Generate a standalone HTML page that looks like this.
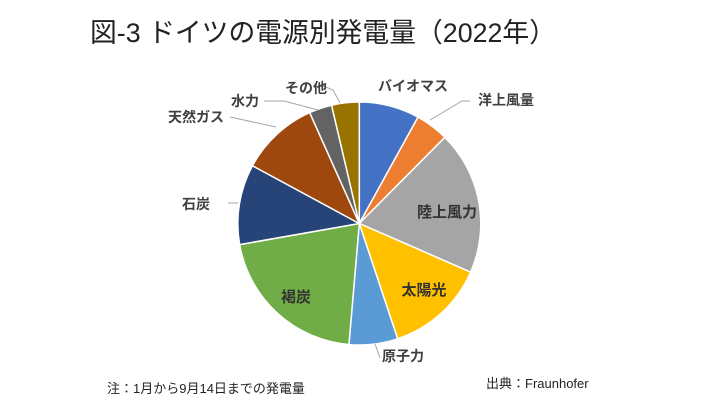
<!DOCTYPE html>
<html><head><meta charset="utf-8"><style>
body{margin:0;width:712px;height:410px;background:#fff;overflow:hidden;font-family:"Liberation Sans","Noto Sans CJK JP",sans-serif}
svg text{font-family:"Liberation Sans","Noto Sans CJK JP",sans-serif}
</style></head><body>
<svg id="s" width="712" height="410" xmlns="http://www.w3.org/2000/svg">
<text x="90" y="42" font-size="27" fill="#222" textLength="466" lengthAdjust="spacingAndGlyphs">図-3 ドイツの電源別発電量（2022年）</text>
<g id="pie"></g>
<g stroke="#a6a6a6" stroke-width="1" fill="none">
<polyline points="430,120 462,101 470,101"/>
<polyline points="321,85 333,90 340,103"/>
<polyline points="264,101 284,101 318,110"/>
<polyline points="230,117 276,127 276,127"/>
<polyline points="375,344 380,358"/>
<polyline points="228,203 238,203"/>
</g>
<g font-size="14" font-weight="bold" fill="#404040" text-anchor="middle">
<text x="413" y="91">バイオマス</text>
<text x="506" y="105">洋上風量</text>
<text x="447" y="217" font-size="15" fill="#333">陸上風力</text>
<text x="424" y="295" font-size="15" fill="#333">太陽光</text>
<text x="403" y="361">原子力</text>
<text x="296" y="302" font-size="15" fill="#333">褐炭</text>
<text x="196" y="209">石炭</text>
<text x="196" y="122">天然ガス</text>
<text x="245" y="106">水力</text>
<text x="306" y="93">その他</text>
</g>
<text x="107" y="393" font-size="13" fill="#222">注：1月から9月14日までの発電量</text>
<text x="486" y="388" font-size="13" fill="#222">出典：Fraunhofer</text>
</svg>
<script>
var cx=359.3,cy=223.5,r=121.5;
var b=[0,28.9,44.8,113.6,161.6,184.9,260,298.4,335.9,346.8,360];
var c=["#4472C4","#ED7D31","#A5A5A5","#FFC000","#5B9BD5","#70AD47","#264478","#9E480E","#636363","#997300"];
var g=document.getElementById("pie"),h="";
function p(a){a=a*Math.PI/180;return (cx+r*Math.sin(a)).toFixed(2)+","+(cy-r*Math.cos(a)).toFixed(2);}
for(var i=0;i<10;i++){var l=(b[i+1]-b[i])>180?1:0;
h+='<path d="M'+cx+','+cy+' L'+p(b[i])+' A'+r+','+r+' 0 '+l+' 1 '+p(b[i+1])+' Z" fill="'+c[i]+'" stroke="#fff" stroke-width="1.5"/>';}
g.innerHTML=h;
</script>
</body></html>
